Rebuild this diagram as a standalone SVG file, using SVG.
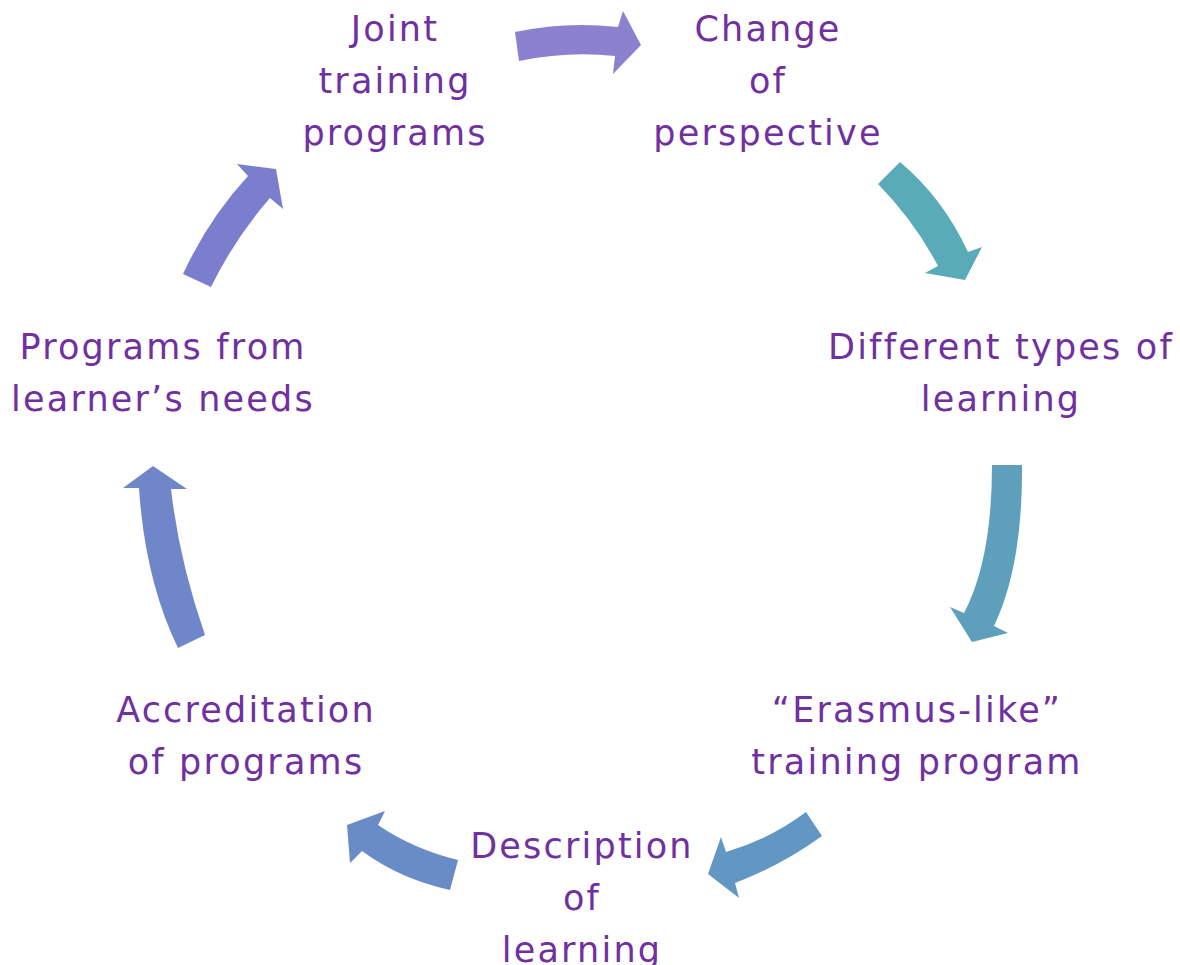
<svg xmlns="http://www.w3.org/2000/svg" width="1180" height="965" viewBox="0 0 1180 965">
<style>
text{font-family:"DejaVu Sans",Verdana,sans-serif;font-size:35px;letter-spacing:2.2px;fill:#7030A0;text-anchor:middle}
</style>
<rect width="1180" height="965" fill="#ffffff"/>
<g id="connectors">
<path id="a1" fill="#8A82CF" d="M515,32 Q566,21 618,27 L623,11 L641,45 L613,74 L615,56 Q568,51 519,61 Z"/>
<path id="a2" fill="#5AABB8" d="M900,162 Q943,198 968,252 L982,247 L965,280 L925,273 L938,266 Q915,222 878,184 Z"/>
<path id="a3" fill="#5EA0BC" d="M992,465 L1022,465 Q1023,565 994,626 L1008,633 L972,642 L950,607 L964,613 Q992,560 992,465 Z"/>
<path id="a4" fill="#6397C3" d="M806,812 L822,836 Q782,865 735,883 L739,898 L708,874 L721,837 L726,852 Q770,839 806,812 Z"/>
<path id="a5" fill="#6A8CC6" d="M458,860 L450,890 Q400,879 362,851 L350,863 L347,825 L385,811 L378,825 Q413,849 458,860 Z"/>
<path id="a6" fill="#6F86C9" d="M178,648 L205,635 Q179,560 171,489 L187,489 L153,466 L123,488 L139,488 Q145,580 178,648 Z"/>
<path id="a7" fill="#7B7ECC" d="M183,274 L211,287 Q235,238 270,198 L283,209 L276,169 L237,164 L248,176 Q209,218 183,274 Z"/>
</g>
<g id="n1"><text x="395" y="41">Joint</text><text x="395" y="93">training</text><text x="395" y="145">programs</text></g>
<g id="n2"><text x="768" y="41">Change</text><text x="768" y="93">of</text><text x="768" y="145">perspective</text></g>
<g id="n3"><text x="1001" y="359">Different types of</text><text x="1001" y="411">learning</text></g>
<g id="n4"><text x="917" y="722">“Erasmus-like”</text><text x="917" y="774">training program</text></g>
<g id="n5"><text x="582" y="858">Description</text><text x="582" y="910">of</text><text x="582" y="962">learning</text></g>
<g id="n6"><text x="246" y="722">Accreditation</text><text x="246" y="774">of programs</text></g>
<g id="n7"><text x="163" y="359">Programs from</text><text x="163" y="411">learner’s needs</text></g>
</svg>
